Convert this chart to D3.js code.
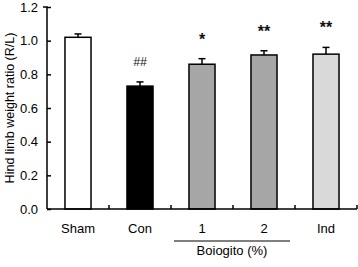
<!DOCTYPE html>
<html>
<head>
<meta charset="utf-8">
<script src="https://cdn.jsdelivr.net/npm/d3@7"></script>
<style>
  body { margin: 0; background: #fff; }
  svg { display: block; font-family: "Liberation Sans", Arial, sans-serif; }
</style>
</head>
<body>
<svg></svg>
<script>
const width = 358;
const height = 267;

const groups = ["Sham", "Con", "1", "2", "Ind"];
const means = [1.02, 0.73, 0.86, 0.915, 0.92];
const errors = [0.02, 0.025, 0.033, 0.025, 0.04];
const marks = ["", "##", "*", "**", "**"];
const fills = ["#ffffff", "#000000", "#a6a6a6", "#a6a6a6", "#d9d9d9"];
const yTicks = [0, 0.2, 0.4, 0.6, 0.8, 1.0, 1.2];

const margin = { top: 7, right: 1, bottom: 58, left: 47 };

const svg = d3.select("svg")
  .attr("width", width)
  .attr("height", height);

const x = d3.scaleBand()
  .domain(groups)
  .range([margin.left, width - margin.right])
  .paddingInner(0.58)
  .paddingOuter(0.29);

const y = d3.scaleLinear()
  .domain([0, 1.2])
  .range([height - margin.bottom, margin.top]);

// bars
svg.selectAll("rect.bar")
  .data(groups)
  .join("rect")
  .attr("class", "bar")
  .attr("x", d => x(d))
  .attr("y", (d, i) => y(means[i]))
  .attr("width", x.bandwidth())
  .attr("height", (d, i) => y(0) - y(means[i]))
  .attr("fill", (d, i) => fills[i])
  .attr("stroke", "#000")
  .attr("stroke-width", 1.5);

// error bars
const err = svg.selectAll("g.err")
  .data(groups)
  .join("g")
  .attr("class", "err");

err.append("line")
  .attr("x1", d => x(d) + x.bandwidth() / 2)
  .attr("x2", d => x(d) + x.bandwidth() / 2)
  .attr("y1", (d, i) => y(means[i]))
  .attr("y2", (d, i) => y(means[i] + errors[i]))
  .attr("stroke", "#000")
  .attr("stroke-width", 1.5);

err.append("line")
  .attr("x1", d => x(d) + x.bandwidth() / 2 - 3.5)
  .attr("x2", d => x(d) + x.bandwidth() / 2 + 3.5)
  .attr("y1", (d, i) => y(means[i] + errors[i]))
  .attr("y2", (d, i) => y(means[i] + errors[i]))
  .attr("stroke", "#000")
  .attr("stroke-width", 1.5);

// significance marks
svg.selectAll("text.mark")
  .data(groups)
  .join("text")
  .attr("class", "mark")
  .attr("x", d => x(d) + x.bandwidth() / 2)
  .attr("y", (d, i) => y(means[i] + errors[i]) - (i === 1 ? 16 : 14))
  .attr("text-anchor", "middle")
  .attr("font-size", (d, i) => i === 1 ? 12 : 16)
  .attr("font-style", (d, i) => i === 1 ? "italic" : "normal")
  .attr("font-weight", (d, i) => i === 1 ? "normal" : "bold")
  .attr("fill", "#111")
  .text((d, i) => marks[i]);

// x axis (ticks between bars, pointing up)
const step = x.step();
const bounds = groups.map(d => x(d) - x.paddingInner() * step / 2 + step);
const xAxis = svg.append("g")
  .attr("transform", `translate(0,${y(0)})`);
xAxis.append("line")
  .attr("x1", margin.left)
  .attr("x2", width - margin.right)
  .attr("stroke", "#000")
  .attr("stroke-width", 1.5);
xAxis.selectAll("line.tk")
  .data(bounds)
  .join("line")
  .attr("class", "tk")
  .attr("x1", d => d)
  .attr("x2", d => d)
  .attr("y1", 0)
  .attr("y2", -4)
  .attr("stroke", "#000")
  .attr("stroke-width", 1.5);
xAxis.selectAll("text")
  .data(groups)
  .join("text")
  .attr("x", d => x(d) + x.bandwidth() / 2)
  .attr("y", 24)
  .attr("text-anchor", "middle")
  .attr("font-size", 13)
  .text(d => d);

// y axis
const yAxis = svg.append("g")
  .attr("transform", `translate(${margin.left},0)`)
  .call(d3.axisLeft(y).tickValues(yTicks).tickSize(-4).tickPadding(9).tickFormat(d3.format(".1f")));
yAxis.select(".domain").attr("stroke-width", 1.5).attr("d", `M-4,${y(1.2)}H0V${y(0)}`);
yAxis.selectAll(".tick line").attr("stroke-width", 1.5);
yAxis.selectAll(".tick text").attr("font-size", 13).attr("font-family", "Liberation Sans, Arial, sans-serif");

// y title
svg.append("text")
  .attr("transform", `translate(14,${(y(0) + y(1.2)) / 2}) rotate(-90)`)
  .attr("text-anchor", "middle")
  .attr("font-size", 12.5)
  .text("Hind limb weight ratio (R/L)");

// Boiogito group bracket
const gx1 = x("1") - 15;
const gx2 = x("2") + x.bandwidth() + 13;
svg.append("line")
  .attr("x1", gx1)
  .attr("x2", gx2)
  .attr("y1", y(0) + 32)
  .attr("y2", y(0) + 32)
  .attr("stroke", "#000")
  .attr("stroke-width", 1.2);
svg.append("text")
  .attr("x", (gx1 + gx2) / 2)
  .attr("y", y(0) + 46)
  .attr("text-anchor", "middle")
  .attr("font-size", 13)
  .text("Boiogito (%)");
</script>
</body>
</html>
